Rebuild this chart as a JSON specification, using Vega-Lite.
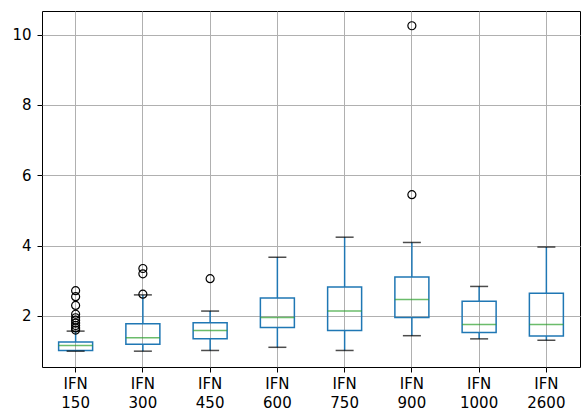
{
  "$schema": "https://vega.github.io/schema/vega-lite/v6.json",
  "autosize": "none",
  "width": 538,
  "height": 356,
  "padding": {"left": 42, "top": 11, "right": 1, "bottom": 47},
  "background": "white",
  "config": {
    "view": {"stroke": "black", "strokeWidth": 1},
    "font": "DejaVu Sans",
    "axis": {
      "labelFont": "DejaVu Sans",
      "labelFontSize": 15,
      "labelColor": "#000000",
      "gridColor": "#b0b0b0",
      "gridOpacity": 1,
      "gridWidth": 1,
      "tickColor": "#000000",
      "tickSize": 5,
      "domain": false,
      "title": null
    }
  },
  "datasets": {
    "summary": [
      {"group": "IFN 150", "low": 1.0, "q1": 1.02, "median": 1.16, "q3": 1.26, "high": 1.57},
      {"group": "IFN 300", "low": 1.0, "q1": 1.2, "median": 1.385, "q3": 1.78, "high": 2.6},
      {"group": "IFN 450", "low": 1.02, "q1": 1.35, "median": 1.59, "q3": 1.81, "high": 2.14},
      {"group": "IFN 600", "low": 1.11, "q1": 1.67, "median": 1.955, "q3": 2.51, "high": 3.67},
      {"group": "IFN 750", "low": 1.02, "q1": 1.585, "median": 2.14, "q3": 2.825, "high": 4.24},
      {"group": "IFN 900", "low": 1.44, "q1": 1.955, "median": 2.467, "q3": 3.11, "high": 4.09},
      {"group": "IFN 1000", "low": 1.35, "q1": 1.53, "median": 1.755, "q3": 2.42, "high": 2.84},
      {"group": "IFN 2600", "low": 1.31, "q1": 1.43, "median": 1.755, "q3": 2.65, "high": 3.96}
    ],
    "outliers": [
      {"group": "IFN 150", "value": 2.72},
      {"group": "IFN 150", "value": 2.55},
      {"group": "IFN 150", "value": 2.3},
      {"group": "IFN 150", "value": 2.05},
      {"group": "IFN 150", "value": 1.95},
      {"group": "IFN 150", "value": 1.88},
      {"group": "IFN 150", "value": 1.8},
      {"group": "IFN 150", "value": 1.73},
      {"group": "IFN 150", "value": 1.66},
      {"group": "IFN 150", "value": 1.6},
      {"group": "IFN 300", "value": 2.62},
      {"group": "IFN 300", "value": 3.2},
      {"group": "IFN 300", "value": 3.35},
      {"group": "IFN 450", "value": 3.06},
      {"group": "IFN 900", "value": 5.45},
      {"group": "IFN 900", "value": 10.25}
    ]
  },
  "encoding": {
    "x": {
      "field": "group",
      "type": "nominal",
      "scale": {
        "domain": ["IFN 150", "IFN 300", "IFN 450", "IFN 600", "IFN 750", "IFN 900", "IFN 1000", "IFN 2600"],
        "paddingInner": 0,
        "paddingOuter": 0
      },
      "axis": {
        "labelAngle": 0,
        "labelExpr": "split(datum.label, ' ')",
        "labelLineHeight": 19,
        "labelPadding": 4,
        "bandPosition": 0.5,
        "grid": true
      }
    }
  },
  "layer": [
    {
      "data": {"name": "summary"},
      "mark": {"type": "rule", "color": "#1f77b4", "strokeWidth": 1.5},
      "encoding": {
        "y": {
          "field": "low",
          "type": "quantitative",
          "scale": {"domain": [0.55, 10.67], "nice": false, "zero": false},
          "axis": {"values": [2, 4, 6, 8, 10], "grid": true, "labelPadding": 6}
        },
        "y2": {"field": "q1"}
      }
    },
    {
      "data": {"name": "summary"},
      "mark": {"type": "rule", "color": "#1f77b4", "strokeWidth": 1.5},
      "encoding": {
        "y": {"field": "q3", "type": "quantitative"},
        "y2": {"field": "high"}
      }
    },
    {
      "data": {"name": "summary"},
      "mark": {"type": "bar", "fill": null, "fillOpacity": 0, "stroke": "#1f77b4", "strokeWidth": 1.5, "width": 34},
      "encoding": {
        "y": {"field": "q1", "type": "quantitative"},
        "y2": {"field": "q3"}
      }
    },
    {
      "data": {"name": "summary"},
      "mark": {"type": "tick", "color": "#2ca02c", "size": 34, "thickness": 1.5},
      "encoding": {
        "y": {"field": "median", "type": "quantitative"}
      }
    },
    {
      "data": {"name": "summary"},
      "mark": {"type": "tick", "color": "#000000", "size": 18, "thickness": 1.5},
      "encoding": {
        "y": {"field": "low", "type": "quantitative"}
      }
    },
    {
      "data": {"name": "summary"},
      "mark": {"type": "tick", "color": "#000000", "size": 18, "thickness": 1.5},
      "encoding": {
        "y": {"field": "high", "type": "quantitative"}
      }
    },
    {
      "data": {"name": "outliers"},
      "mark": {"type": "point", "shape": "circle", "filled": false, "stroke": "#000000", "strokeWidth": 1.2, "size": 64, "opacity": 1},
      "encoding": {
        "y": {"field": "value", "type": "quantitative"}
      }
    }
  ]
}
